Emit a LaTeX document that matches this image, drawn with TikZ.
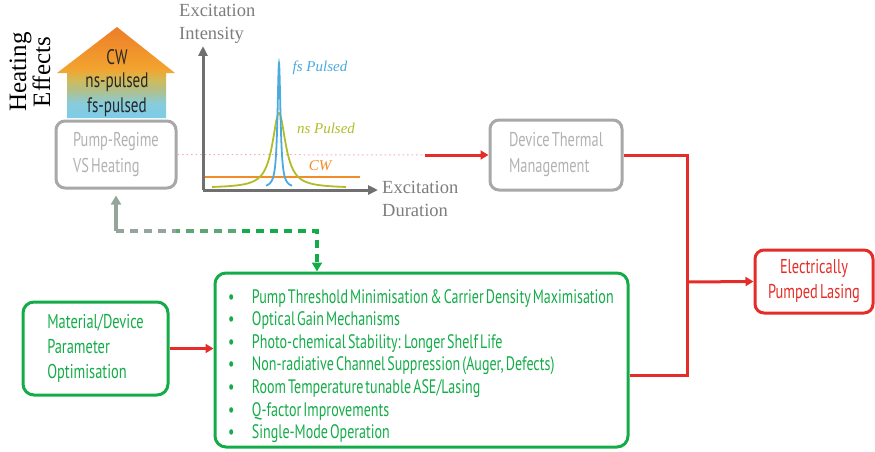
\documentclass[tikz,border=0pt]{standalone}
\usepackage{fontspec}
\usetikzlibrary{arrows.meta,calc}

\newfontfamily\narrowfont[FakeStretch=0.72, WordSpace=0.55]{PT Sans}
\newfontfamily\seriffont{Liberation Serif}

\definecolor{boxgreen}{RGB}{20,172,72}
\definecolor{boxred}{RGB}{228,45,40}
\definecolor{boxgray}{RGB}{168,168,168}
\definecolor{textgray}{RGB}{178,178,178}
\definecolor{axisgray}{RGB}{112,112,112}
\definecolor{labelgray}{RGB}{125,125,125}
\definecolor{fsblue}{RGB}{75,170,222}
\definecolor{nsolive}{RGB}{178,188,40}
\definecolor{cworange}{RGB}{242,140,40}
\definecolor{dotpink}{RGB}{242,175,175}
\definecolor{dashgray}{RGB}{148,166,156}
\definecolor{dashmid}{RGB}{90,166,116}

\pgfdeclareverticalshading{heatshade}{100bp}{%
    rgb(0bp)=(0.49,0.80,0.91); rgb(25bp)=(0.49,0.80,0.91); rgb(33bp)=(0.53,0.80,0.86);
    rgb(40bp)=(0.69,0.75,0.55); rgb(46bp)=(0.82,0.73,0.35); rgb(52bp)=(0.95,0.64,0.18);
    rgb(75bp)=(0.93,0.49,0.16); rgb(100bp)=(0.93,0.49,0.16)}

\tikzset{
    greybox/.style={draw=boxgray, line width=3pt, rounded corners=9pt, text=textgray,
        font=\narrowfont\fontsize{20}{26}\selectfont, align=left, inner xsep=13pt},
    greenbox/.style={draw=boxgreen, line width=3pt, rounded corners=11pt, text=boxgreen,
        font=\narrowfont\fontsize{20}{25}\selectfont, align=left},
    redbox/.style={draw=boxred, line width=3pt, rounded corners=9pt, text=boxred,
        font=\narrowfont\fontsize{20}{25}\selectfont, align=center},
    redline/.style={boxred, line width=3pt},
    redarrow/.style={boxred, line width=3pt, -{Triangle[length=8pt,width=9pt]}},
    axisline/.style={axisgray, line width=3pt, -{Triangle[length=10pt,width=9pt]}},
    serifgray/.style={text=labelgray, font=\seriffont\fontsize{18.5}{23}\selectfont, align=left, inner sep=0pt},
    curvelabel/.style={font=\seriffont\itshape\fontsize{15}{18}\selectfont},
    housetext/.style={text=black!85, font=\narrowfont\fontsize{21}{22}\selectfont},
    dashlink/.style={line width=3.5pt, dash pattern=on 8pt off 6pt}
}

\begin{document}
\begin{tikzpicture}[x=1pt, y=-1pt]
    \useasboundingbox (0,0) rectangle (875,452);

    % heating label and house
    \node[rotate=90, align=center, font=\seriffont\fontsize{25}{24}\selectfont] (heat) at (30,72) {Heating\\Effects};
    \shade[shading=heatshade]
        (57,73) -- (117,27) -- (175,73) -- (166,73) -- (166,118) -- (67,118) -- (67,73) -- cycle;
    \node[housetext] (cw) at (117,57) {CW};
    \node[housetext] (nsp) at (117,82) {ns-pulsed};
    \node[housetext] (fsp) at (117,107) {fs-pulsed};

    \node[greybox, minimum width=120pt, minimum height=67pt] (pump) at (116,154.5) {Pump-Regime\\VS Heating};
    \node[greybox, minimum width=132pt, minimum height=70pt] (dtm) at (556,155) {Device Thermal\\Management};
    \node[redbox, minimum width=118pt, minimum height=63pt] (epl) at (814,281.5) {Electrically\\Pumped Lasing};
    \node[greenbox, minimum width=145pt, minimum height=93pt] (mat) at (95.5,348.5) {Material/Device\\Parameter\\Optimisation};
    \node[greenbox, minimum width=413pt, minimum height=174pt, text width=387pt, align=flush left,
          font=\narrowfont\fontsize{19.5}{22.6}\selectfont] (goals) at (421.5,360) {%
        \rule{0pt}{26pt}\makebox[24pt][l]{\textbullet}Pump Threshold Minimisation \& Carrier Density Maximisation\\
        \makebox[24pt][l]{\textbullet}Optical Gain Mechanisms\\
        \makebox[24pt][l]{\textbullet}Photo-chemical Stability: Longer Shelf Life\\
        \makebox[24pt][l]{\textbullet}Non-radiative Channel Suppression (Auger, Defects)\\
        \makebox[24pt][l]{\textbullet}Room Temperature tunable ASE/Lasing\\
        \makebox[24pt][l]{\textbullet}Q-factor Improvements\\
        \makebox[24pt][l]{\textbullet}Single-Mode Operation};

    % excitation graph
    \coordinate (redstart) at (425,155);
    \draw[dotpink, line width=1pt, dash pattern=on 1.5pt off 3pt] (pump.east) -- (redstart);
    \coordinate (orig) at (203,190);
    \draw[axisline] (orig) -- (203,46);
    \draw[axisline] (orig) -- (378,190);
    \node[serifgray, anchor=west] (ylbl) at (179,23.5) {Excitation\\Intensity};
    \node[serifgray, anchor=west] (xlbl) at (382,199) {Excitation\\Duration};
    \draw[cworange, line width=1.8pt] (205,177) -- (360,177);
    \draw[nsolive, line width=1.8pt] plot[domain=212:346, samples=135, smooth] (\x,{188-75/(1+((\x-279)/8)^2)});
    \draw[fsblue, line width=1.8pt] plot[domain=266:292, samples=105, smooth] (\x,{188-125/(1+((\x-279)/1.8)^2)});
    \node[curvelabel, text=fsblue] (fslbl) at (320,68) {fs Pulsed};
    \node[curvelabel, text=nsolive] (nslbl) at (326,128) {ns Pulsed};
    \node[curvelabel, text=cworange] (cwlbl) at (320,166) {CW};

    % connectors
    \draw[redarrow] (redstart) -- (dtm.west);
    \coordinate (jmid) at (687,282);
    \coordinate (jbot) at (687,375);
    \draw[redline] (dtm.east) -| (jbot) -- (goals.east |- jbot);
    \draw[redarrow] (jmid) -- (epl.west);
    \draw[redarrow] (mat.east) -- (mat.east -| goals.west);

    \coordinate (dl) at (116,231);
    \coordinate (dv) at (317,231);
    \draw[dashgray, line width=3.5pt, shorten >=6pt, -{Triangle[length=9pt,width=10pt]}] (dl) -- (pump.south);
    \draw[dashlink, boxgreen, -{Triangle[length=9pt,width=10pt]}] (dl) -- (dv) -- (dv |- goals.north);
    \draw[dashlink, dashmid] (dl) -- ($(dl)!0.6!(dv)$);
    \draw[dashlink, dashgray] (dl) -- ($(dl)!0.3!(dv)$);
\end{tikzpicture}
\end{document}
